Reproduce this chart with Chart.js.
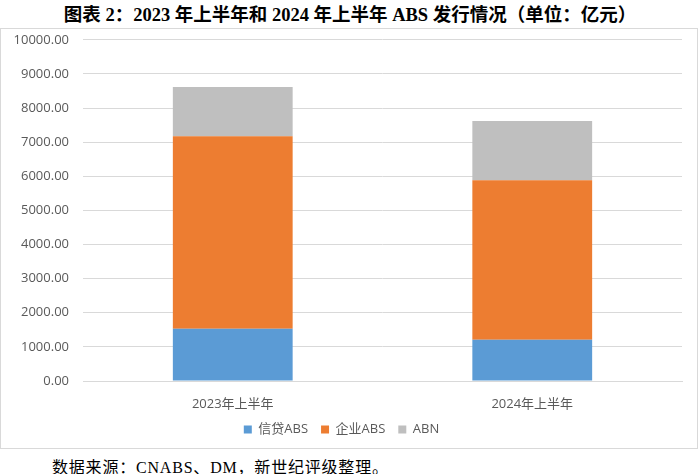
<!DOCTYPE html>
<html>
<head>
<meta charset="utf-8">
<script src="https://cdn.jsdelivr.net/npm/chart.js@4"></script>
<style>
  body { margin: 0; width: 700px; height: 474px; background: #fff; position: relative; overflow: hidden; }
  #title { position: absolute; top: 0px; left: 0; width: 700px; text-align: center;
    font-family: "Liberation Serif", "Noto Sans CJK SC", serif; font-weight: bold; font-size: 18.5px; color: #000; }
  #box { position: absolute; left: 0; top: 28px; width: 696px; height: 419px; border: 1px solid #d9d9d9; }
  #chart { position: absolute; left: 0; top: -11px; }
  #note { position: absolute; top: 454px; left: 52px; letter-spacing: 0.8px;
    font-family: "Liberation Serif", "Noto Sans CJK SC", serif; font-size: 16px; color: #000; }
</style>
</head>
<body>
<div id="title">图表 2：2023 年上半年和 2024 年上半年 ABS 发行情况（单位：亿元）</div>
<div id="box"><canvas id="chart" width="696" height="430"></canvas></div>
<div id="note">数据来源：CNABS、DM，新世纪评级整理。</div>
<script>
// 数据（亿元）
const categorias = ['2023年上半年', '2024年上半年'];
const xindaiABS = [1530, 1206];
const qiyeABS = [5646, 4676];
const abn = [1442, 1736];
const yTicks = [0, 1000, 2000, 3000, 4000, 5000, 6000, 7000, 8000, 9000, 10000];

const fuente = "'Open Sans', 'Noto Sans CJK SC', sans-serif";

new Chart(document.getElementById('chart'), {
    type: 'bar',
    data: {
        labels: categorias,
        datasets: [
            { label: '信贷ABS', data: xindaiABS, backgroundColor: '#5b9bd5' },
            { label: '企业ABS', data: qiyeABS, backgroundColor: '#ed7d31' },
            { label: 'ABN', data: abn, backgroundColor: '#bfbfbf' }
        ]
    },
    options: {
        responsive: false,
        animation: false,
        layout: { padding: { top: 1, right: 15, left: 0, bottom: 2 } },
        datasets: { bar: { barPercentage: 0.40, categoryPercentage: 1 } },
        plugins: {
            tooltip: { enabled: false },
            legend: {
                position: 'bottom',
                labels: {
                    color: '#595959',
                    font: { family: fuente, size: 13 },
                    boxWidth: 8, boxHeight: 8, padding: 13
                }
            }
        },
        scales: {
            x: {
                stacked: true,
                grid: { display: false },
                border: { color: '#d9d9d9' },
                afterFit: (axis) => { axis.height = 29; },
                ticks: { color: '#595959', font: { family: fuente, size: 13 }, padding: 7 }
            },
            y: {
                stacked: true,
                min: 0, max: 10000,
                afterBuildTicks: (axis) => { axis.ticks = yTicks.map(v => ({ value: v })); },
                afterFit: (axis) => { axis.width = 82; },
                grid: { color: '#d9d9d9', drawTicks: false },
                border: { display: false },
                ticks: {
                    color: '#595959', font: { family: fuente, size: 13 }, padding: 14,
                    callback: (v) => v.toFixed(2)
                }
            }
        }
    }
});
</script>
</body>
</html>
